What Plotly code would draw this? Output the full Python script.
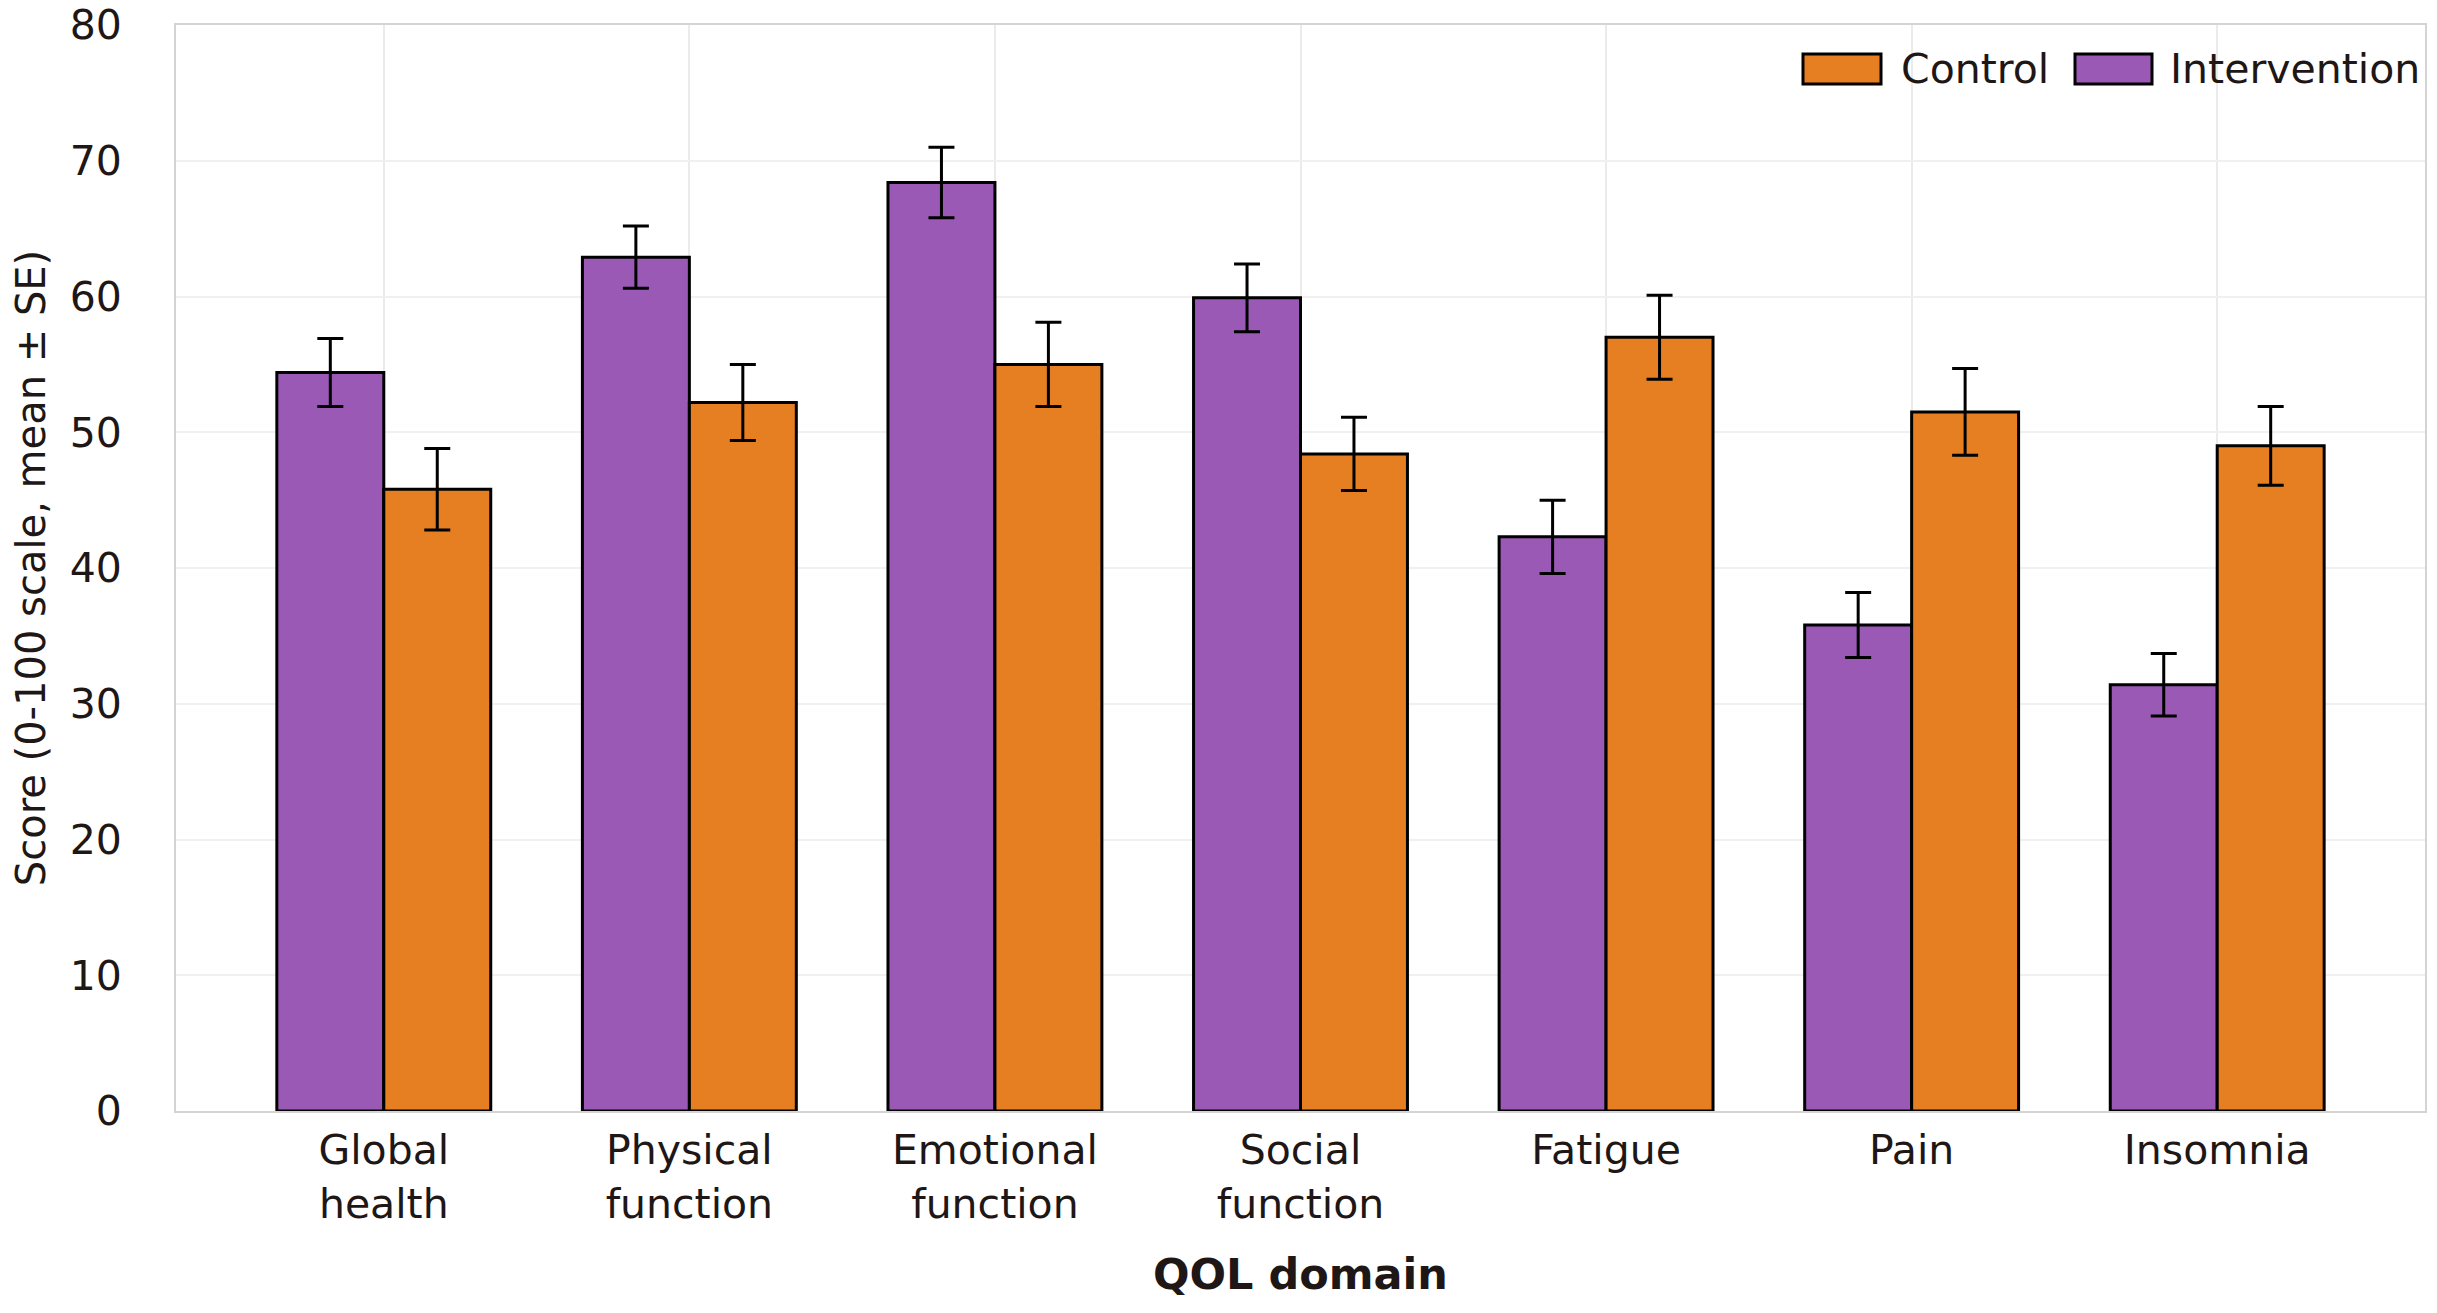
import plotly.graph_objects as go

categories = ["Global<br>health", "Physical<br>function", "Emotional<br>function", "Social<br>function", "Fatigue", "Pain", "Insomnia"]
intervention_mean = [54.4, 62.9, 68.4, 59.9, 42.3, 35.8, 31.4]
intervention_se = [2.5, 2.3, 2.6, 2.5, 2.7, 2.4, 2.3]
control_mean = [45.8, 52.2, 55.0, 48.4, 57.0, 51.5, 49.0]
control_se = [3.0, 2.8, 3.1, 2.7, 3.1, 3.2, 2.9]
y_ticks = [0, 10, 20, 30, 40, 50, 60, 70, 80]

PURPLE = "#9B59B6"
ORANGE = "#E67E22"
TXT = "#1e1716"
FONT = "DejaVu Sans"

W, H = 2437, 1313
L, R, T, B = 176, 2425, 25, 1111

def px_x(p):
    return (p - L) / (R - L)

def px_y(p):
    return (B - p) / (B - T)

fig = go.Figure()
fig.add_trace(go.Bar(
    x=categories, y=intervention_mean, name="Intervention",
    marker=dict(color=PURPLE, line=dict(color="black", width=3)),
    error_y=dict(type="data", array=intervention_se, color="black", thickness=3, width=13),
    showlegend=False,
))
fig.add_trace(go.Bar(
    x=categories, y=control_mean, name="Control",
    marker=dict(color=ORANGE, line=dict(color="black", width=3)),
    error_y=dict(type="data", array=control_se, color="black", thickness=3, width=13),
    showlegend=False,
))

# manual legend (larger swatches like the reference)
legend_items = [("Control", ORANGE, 1803, 1881, 1899), ("Intervention", PURPLE, 2075, 2152, 2168)]
for label, col, x0, x1, tx in legend_items:
    fig.add_shape(type="rect", xref="paper", yref="paper",
                  x0=px_x(x0), x1=px_x(x1), y0=px_y(84), y1=px_y(54),
                  fillcolor=col, line=dict(color="black", width=3))
    fig.add_annotation(xref="paper", yref="paper", x=px_x(tx), y=px_y(69),
                       text=label, showarrow=False, xanchor="left", yanchor="middle",
                       font=dict(family=FONT, size=41, color=TXT))

fig.update_layout(
    width=W, height=H,
    margin=dict(l=L, r=W - R, t=T, b=H - B, autoexpand=False),
    barmode="group", bargap=0.30, bargroupgap=0,
    plot_bgcolor="white", paper_bgcolor="white",
    font=dict(family=FONT, color=TXT, size=41),
)
fig.update_xaxes(
    range=[-0.68, 6.68], showgrid=True, gridcolor="#ebebeb", gridwidth=2,
    showline=True, linecolor="#d4d4d4", linewidth=2, mirror=True,
    ticks="", tickfont=dict(family=FONT, size=41, color=TXT),
    ticklabelstandoff=2, automargin=False,
    title=dict(text="<b>QOL domain</b>", font=dict(family=FONT, size=43, color=TXT), standoff=32),
)
fig.update_yaxes(
    range=[0, 80], tickvals=y_ticks, showgrid=True, gridcolor="#f0f0f0", gridwidth=2,
    showline=True, linecolor="#d4d4d4", linewidth=2, mirror=True, zeroline=False,
    ticks="", tickfont=dict(family=FONT, size=41, color=TXT),
    ticklabelstandoff=44, automargin=False,
    title=dict(text="Score (0-100 scale, mean ± SE)", font=dict(family=FONT, size=40, color=TXT), standoff=12),
)

fig.write_html("out.html")
